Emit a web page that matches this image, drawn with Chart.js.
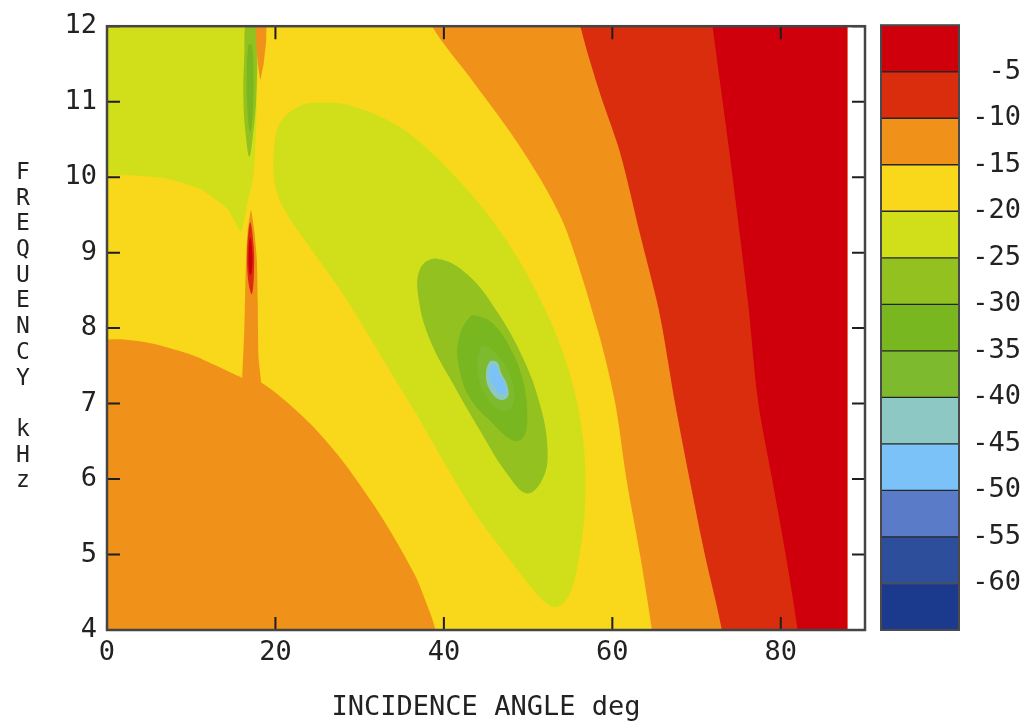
<!DOCTYPE html>
<html>
<head>
<meta charset="utf-8">
<script src="https://cdn.jsdelivr.net/npm/chart.js@4.4.0/dist/chart.umd.min.js"></script>
<style>
  body { margin: 0; background: #fff; }
  #wrap { position: relative; width: 1021px; height: 726px; }
  #wrap canvas { position: absolute; left: 0; top: 0; }
</style>
</head>
<body>
<div id="wrap">
  <canvas id="contour" width="1021" height="726"></canvas>
  <canvas id="colorbar" width="1021" height="726"></canvas>
</div>
<script>
// contour levels, dB (band i lies between bandTop[i] and bandBottom[i])
const levelTicks = [-5, -10, -15, -20, -25, -30, -35, -40, -45, -50, -55, -60];
const bandTop    = [0, -5, -10, -15, -20, -25, -30, -35, -40, -45, -50, -55, -60];
const bandBottom = [-5, -10, -15, -20, -25, -30, -35, -40, -45, -50, -55, -60, -65];
const levelColors = ['#cf000c', '#d92d0e', '#f0921a', '#f9d71b', '#d1df1b', '#93c11f',
                     '#78b720', '#7eba2e', '#8ec8c5', '#7ac2f8', '#5a7cc8', '#2c4e9b', '#1b3a8d'];

// contour outlines as [incidence angle deg, frequency kHz]; points past the
// frame only close the outlines and are clipped away
const fieldAll = [[-1, 3.5], [-1, 12.5], [87.9, 12.5], [87.9, 3.5]];
const orangeRight = [[37.9, 12.35], [38.6, 12.0], [43.1, 11.32], [47.9, 10.59], [52.0, 9.87], [54.6, 9.28],
  [58.3, 7.96], [60.3, 7.03], [61.7, 5.98], [63.3, 4.99], [64.7, 4.0], [65.1, 3.6],
  [87.9, 3.0], [87.9, 3.9], [87.9, 12.1], [87.9, 13.0]];
const redOrangeRight = [[55.9, 12.3], [56.2, 12.0], [58.5, 11.12], [60.9, 10.33], [63.3, 9.24], [65.3, 8.35],
  [66.0, 7.96], [67.4, 7.03], [69.2, 5.98], [71.0, 4.99], [73.0, 4.0], [73.3, 3.6],
  [87.9, 3.0], [87.9, 3.9], [87.9, 12.1], [87.9, 13.0]];
const redRight = [[71.6, 12.3], [71.9, 12.0], [73.9, 10.33], [76.1, 8.35], [77.3, 7.03], [79.0, 5.98],
  [80.5, 5.05], [82.0, 4.0], [82.3, 3.6], [87.9, 3.0], [87.9, 3.9], [87.9, 12.1], [87.9, 13.0]];
const greenTopLeft = [[-3, 13.0], [-3, 10.03], [0, 10.03], [3.5, 10.02], [7.2, 9.98], [11.1, 9.84],
  [14.3, 9.58], [15.9, 9.28], [16.7, 9.67], [17.4, 10.03], [17.7, 10.6], [17.8, 11.0], [18.0, 12.0], [18.1, 13.0]];
const orangeLowerLeft = [[-3, 7.85], [0, 7.85], [2.0, 7.85], [5.2, 7.80], [9.95, 7.65], [13.0, 7.50],
  [16.1, 7.34], [18.6, 7.26], [23.8, 6.77], [27.7, 6.28], [31.6, 5.67], [33.8, 5.28],
  [36.6, 4.72], [37.8, 4.39], [39.0, 4.0], [39.3, 3.6], [-3, 3.0]];
const orangeSpike = [[16.0, 7.2], [16.3, 7.96], [16.5, 8.9], [16.7, 9.28], [17.1, 9.56], [17.5, 9.28],
  [17.8, 8.9], [17.9, 8.35], [18.0, 7.6], [18.4, 7.2]];
const spikeCoreOuter = [[17.0, 9.4], [17.4, 9.1], [17.45, 8.75], [17.2, 8.45], [16.8, 8.6], [16.65, 9.0]];
const spikeCoreInner = [[17.0, 9.2], [17.25, 9.0], [17.2, 8.75], [16.95, 8.7], [16.8, 8.95]];
const spikeGreenOuter = [[16.2, 11.0], [16.3, 11.6], [16.6, 12.1], [17.6, 12.1], [17.8, 11.6], [17.7, 11.0],
  [17.3, 10.53], [16.9, 10.27], [16.5, 10.53]];
const spikeGreenInner = [[16.6, 11.3], [16.8, 11.75], [17.2, 11.75], [17.4, 11.3], [17.3, 10.85],
  [17.0, 10.6], [16.7, 10.85]];
const spikeOrangeTop = [[17.65, 12.2], [18.96, 12.2], [18.9, 11.8], [18.6, 11.5], [18.2, 11.28],
  [17.9, 11.5], [17.7, 11.8]];
const band25 = [[28.4, 8.39], [33.3, 7.54], [37.2, 6.77], [43.5, 5.58], [47.9, 4.92], [51.4, 4.43],
  [53.2, 4.30], [54.7, 4.43], [55.9, 4.86], [56.8, 5.75], [56.4, 6.64], [54.6, 7.52], [51.4, 8.39],
  [46.7, 9.28], [40.8, 10.07], [34.8, 10.66], [28.9, 10.95], [25.4, 10.99], [23.0, 10.95], [20.6, 10.73],
  [19.8, 10.33], [20.0, 9.87], [21.2, 9.54], [23.0, 9.24]];
const band30 = [[44.3, 6.64], [41.1, 7.26], [38.4, 7.83], [37.0, 8.39], [37.2, 8.79], [39.2, 8.92],
  [42.8, 8.71], [46.3, 8.22], [49.4, 7.60], [51.4, 6.99], [52.3, 6.41], [51.8, 6.02], [49.9, 5.81], [47.5, 6.07]];
const band35 = [[41.9, 7.43], [43.1, 7.07], [45.5, 6.77], [48.2, 6.51], [49.4, 6.55], [49.9, 6.81],
  [49.4, 7.30], [47.9, 7.73], [45.9, 8.05], [44.3, 8.15], [43.1, 8.15], [41.7, 7.82]];
const band40 = [[44.0, 7.43], [45.1, 7.07], [47.0, 6.90], [48.2, 6.99], [48.1, 7.30], [46.7, 7.60],
  [45.1, 7.76], [44.3, 7.73]];
const band45 = [[45.0, 7.34], [45.7, 7.14], [46.7, 7.05], [47.6, 7.09], [47.5, 7.25], [46.8, 7.41],
  [46.3, 7.55], [45.4, 7.55]];
const band50 = [[45.4, 7.36], [46.0, 7.22], [46.7, 7.13], [47.3, 7.15], [47.2, 7.28], [46.6, 7.38],
  [46.2, 7.49], [45.6, 7.51]];

// painted bottom to top: [outline, band index, smoothing, closed loop]
const layers = [
  [fieldAll, 3, 0, false], [orangeRight, 2, 0.3, false], [redOrangeRight, 1, 0.3, false],
  [redRight, 0, 0.3, false], [greenTopLeft, 4, 0.2, false], [orangeLowerLeft, 2, 0.3, false],
  [orangeSpike, 2, 0.15, false], [spikeCoreOuter, 1, 0.4, true], [spikeCoreInner, 0, 0.4, true],
  [spikeGreenOuter, 5, 0.4, true], [spikeGreenInner, 6, 0.4, true], [spikeOrangeTop, 2, 0, false],
  [band25, 4, 0.35, true], [band30, 5, 0.4, true], [band35, 6, 0.4, true], [band40, 7, 0.4, true],
  [band45, 8, 0.4, true], [band50, 9, 0.4, true]
];

// repeat the first points so the smoothed outline closes without a kink
const wrap = pts => pts.concat(pts.slice(0, 3));

const xTitle = 'INCIDENCE ANGLE deg';
const yTitle = 'FREQUENCY kHz';
const monoFont = 'DejaVu Sans Mono';
const inkColor = '#222';

// frame plus inward tick marks on all four sides
const frameTicks = {
  id: 'frameTicks',
  afterDatasetsDraw(chart) {
    const { ctx, chartArea: a, scales: { x, y } } = chart;
    ctx.save();
    ctx.strokeStyle = '#1e1e1e';
    ctx.lineWidth = 2;
    ctx.beginPath();
    x.ticks.forEach(t => {
      const px = x.getPixelForValue(t.value);
      ctx.moveTo(px, a.bottom); ctx.lineTo(px, a.bottom - 13);
      ctx.moveTo(px, a.top); ctx.lineTo(px, a.top + 13);
    });
    y.ticks.forEach(t => {
      const py = y.getPixelForValue(t.value);
      ctx.moveTo(a.left, py); ctx.lineTo(a.left + 13, py);
      ctx.moveTo(a.right, py); ctx.lineTo(a.right - 13, py);
    });
    ctx.stroke();
    ctx.strokeStyle = '#454545';
    ctx.lineWidth = 2.5;
    ctx.strokeRect(a.left, a.top, a.right - a.left, a.bottom - a.top);
    ctx.restore();
  }
};

// upright letters stacked down the left margin
const stackedYTitle = {
  id: 'stackedYTitle',
  afterDraw(chart) {
    const ctx = chart.ctx;
    ctx.save();
    ctx.font = '23px "' + monoFont + '"';
    ctx.fillStyle = inkColor;
    ctx.textAlign = 'center';
    ctx.textBaseline = 'middle';
    [...yTitle].forEach((ch, i) => ctx.fillText(ch, 23, 173 + i * 25.7));
    ctx.restore();
  }
};

new Chart(document.getElementById('contour'), {
  type: 'scatter',
  data: {
    datasets: layers.map(([pts, band, smooth, closed], i) => ({
      data: (closed ? wrap(pts) : pts).map(([x, y]) => ({ x, y })),
      showLine: true,
      fill: 'shape',
      backgroundColor: levelColors[band],
      borderWidth: 0,
      pointRadius: 0,
      tension: smooth,
      order: layers.length - i
    }))
  },
  options: {
    responsive: false,
    animation: false,
    events: [],
    layout: { padding: { left: 0, top: 23, right: 156, bottom: 0 } },
    plugins: { legend: { display: false }, tooltip: { enabled: false } },
    scales: {
      x: {
        type: 'linear', min: 0, max: 90,
        grid: { display: false, drawTicks: false },
        border: { display: false },
        ticks: { stepSize: 20, includeBounds: false, padding: 7, color: inkColor,
                 font: { family: monoFont, size: 27 } },
        title: { display: true, text: xTitle, color: inkColor, padding: { top: 0, bottom: 2 },
                 font: { family: monoFont, size: 27 } },
        afterFit(scale) { scale.height = 96; }
      },
      y: {
        type: 'linear', min: 4, max: 12,
        grid: { display: false, drawTicks: false },
        border: { display: false },
        ticks: { stepSize: 1, padding: 10, color: inkColor, font: { family: monoFont, size: 27 } },
        afterFit(scale) { scale.width = 107; }
      }
    }
  },
  plugins: [frameTicks, stackedYTitle]
});

// colour key: one floating bar segment per band
const keyFrame = {
  id: 'keyFrame',
  afterDatasetsDraw(chart) {
    const { ctx, chartArea: a } = chart;
    ctx.save();
    ctx.strokeStyle = '#4a4a4a';
    ctx.lineWidth = 2;
    ctx.strokeRect(a.left, a.top, a.right - a.left, a.bottom - a.top);
    ctx.restore();
  }
};

new Chart(document.getElementById('colorbar'), {
  type: 'bar',
  data: {
    labels: ['dB'],
    datasets: levelColors.map((c, i) => ({
      data: [[bandBottom[i], bandTop[i]]],
      backgroundColor: c,
      borderColor: '#262626',
      borderWidth: 1,
      borderSkipped: false,
      barPercentage: 1,
      categoryPercentage: 1
    }))
  },
  options: {
    responsive: false,
    animation: false,
    events: [],
    layout: { padding: { left: 881, top: 23, right: 0, bottom: 96 } },
    plugins: { legend: { display: false }, tooltip: { enabled: false } },
    scales: {
      x: { display: false, stacked: true },
      y: {
        position: 'right', min: -65, max: 0,
        afterBuildTicks(scale) { scale.ticks = levelTicks.map(v => ({ value: v })); },
        grid: { display: false, drawTicks: false },
        border: { display: false },
        ticks: { crossAlign: 'far', padding: 9, color: inkColor, font: { family: monoFont, size: 27 } },
        afterFit(scale) { scale.width = 62; }
      }
    }
  },
  plugins: [keyFrame]
});
</script>
</body>
</html>
